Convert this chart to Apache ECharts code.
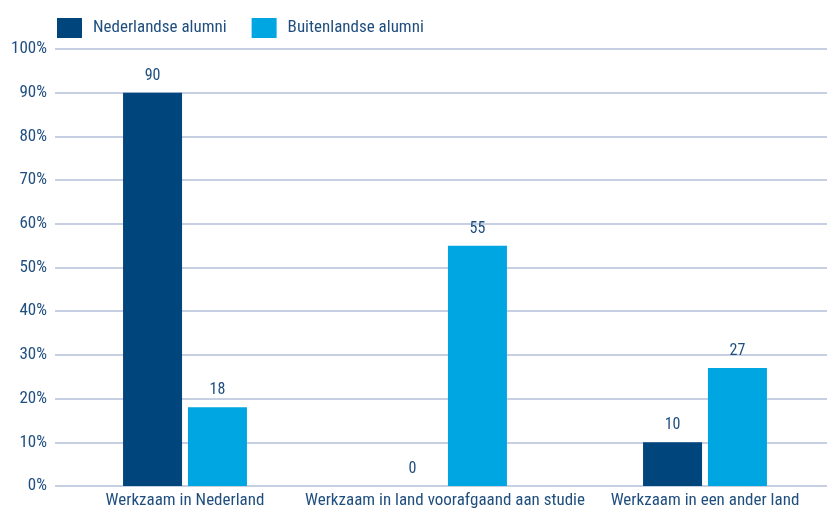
<!DOCTYPE html>
<html><head><meta charset="utf-8">
<script src="https://cdn.jsdelivr.net/npm/echarts@6/dist/echarts.min.js"></script>
<style>html,body{margin:0;padding:0;background:#fff;overflow:hidden}#c{width:835px;height:512px}</style>
</head><body><div id="c"></div>
<script>
const categories = ['Werkzaam in Nederland', 'Werkzaam in land voorafgaand aan studie', 'Werkzaam in een ander land'];
const seriesNames = ['Nederlandse alumni', 'Buitenlandse alumni'];
const nederlandse = [90, 0, 10];
const buitenlandse = [18, 55, 27];
const colors = ['#00457c', '#00a6e2'];
const FONT = '"Roboto Condensed", "DejaVu Sans Condensed", sans-serif';
const TXT = '#1f4e7f';

const chart = echarts.init(document.getElementById('c'));
chart.setOption({
  animation: false,
  textStyle: { fontFamily: FONT },
  color: colors,
  legend: {
    left: 52, top: 13, itemWidth: 25, itemHeight: 20, itemGap: 25,
    icon: 'rect',
    textStyle: { color: TXT, fontSize: 17, fontFamily: FONT, padding: [0, 0, 0, 6] },
    data: seriesNames
  },
  grid: { left: 55, right: 0, top: 49, bottom: 26, containLabel: false },
  xAxis: {
    type: 'category', data: categories,
    axisLine: { show: false }, axisTick: { show: false },
    axisLabel: { interval: 0, color: TXT, fontSize: 17, fontFamily: FONT, margin: 6 }
  },
  yAxis: {
    type: 'value', min: 0, max: 100, interval: 10,
    axisLabel: { formatter: '{value}%', color: TXT, fontSize: 17, fontFamily: FONT, margin: 8 },
    splitLine: { lineStyle: { color: '#b3c1d8', width: 1.5 } },
    axisLine: { show: false }, axisTick: { show: false }
  },
  series: [
    { name: seriesNames[0], type: 'bar', data: nederlandse, barWidth: 59, barGap: '10%',
      label: { show: true, position: 'top', distance: 9, color: TXT, fontSize: 16, fontFamily: FONT } },
    { name: seriesNames[1], type: 'bar', data: buitenlandse, barWidth: 59,
      label: { show: true, position: 'top', distance: 9, color: TXT, fontSize: 16, fontFamily: FONT } }
  ]
});
</script></body></html>
